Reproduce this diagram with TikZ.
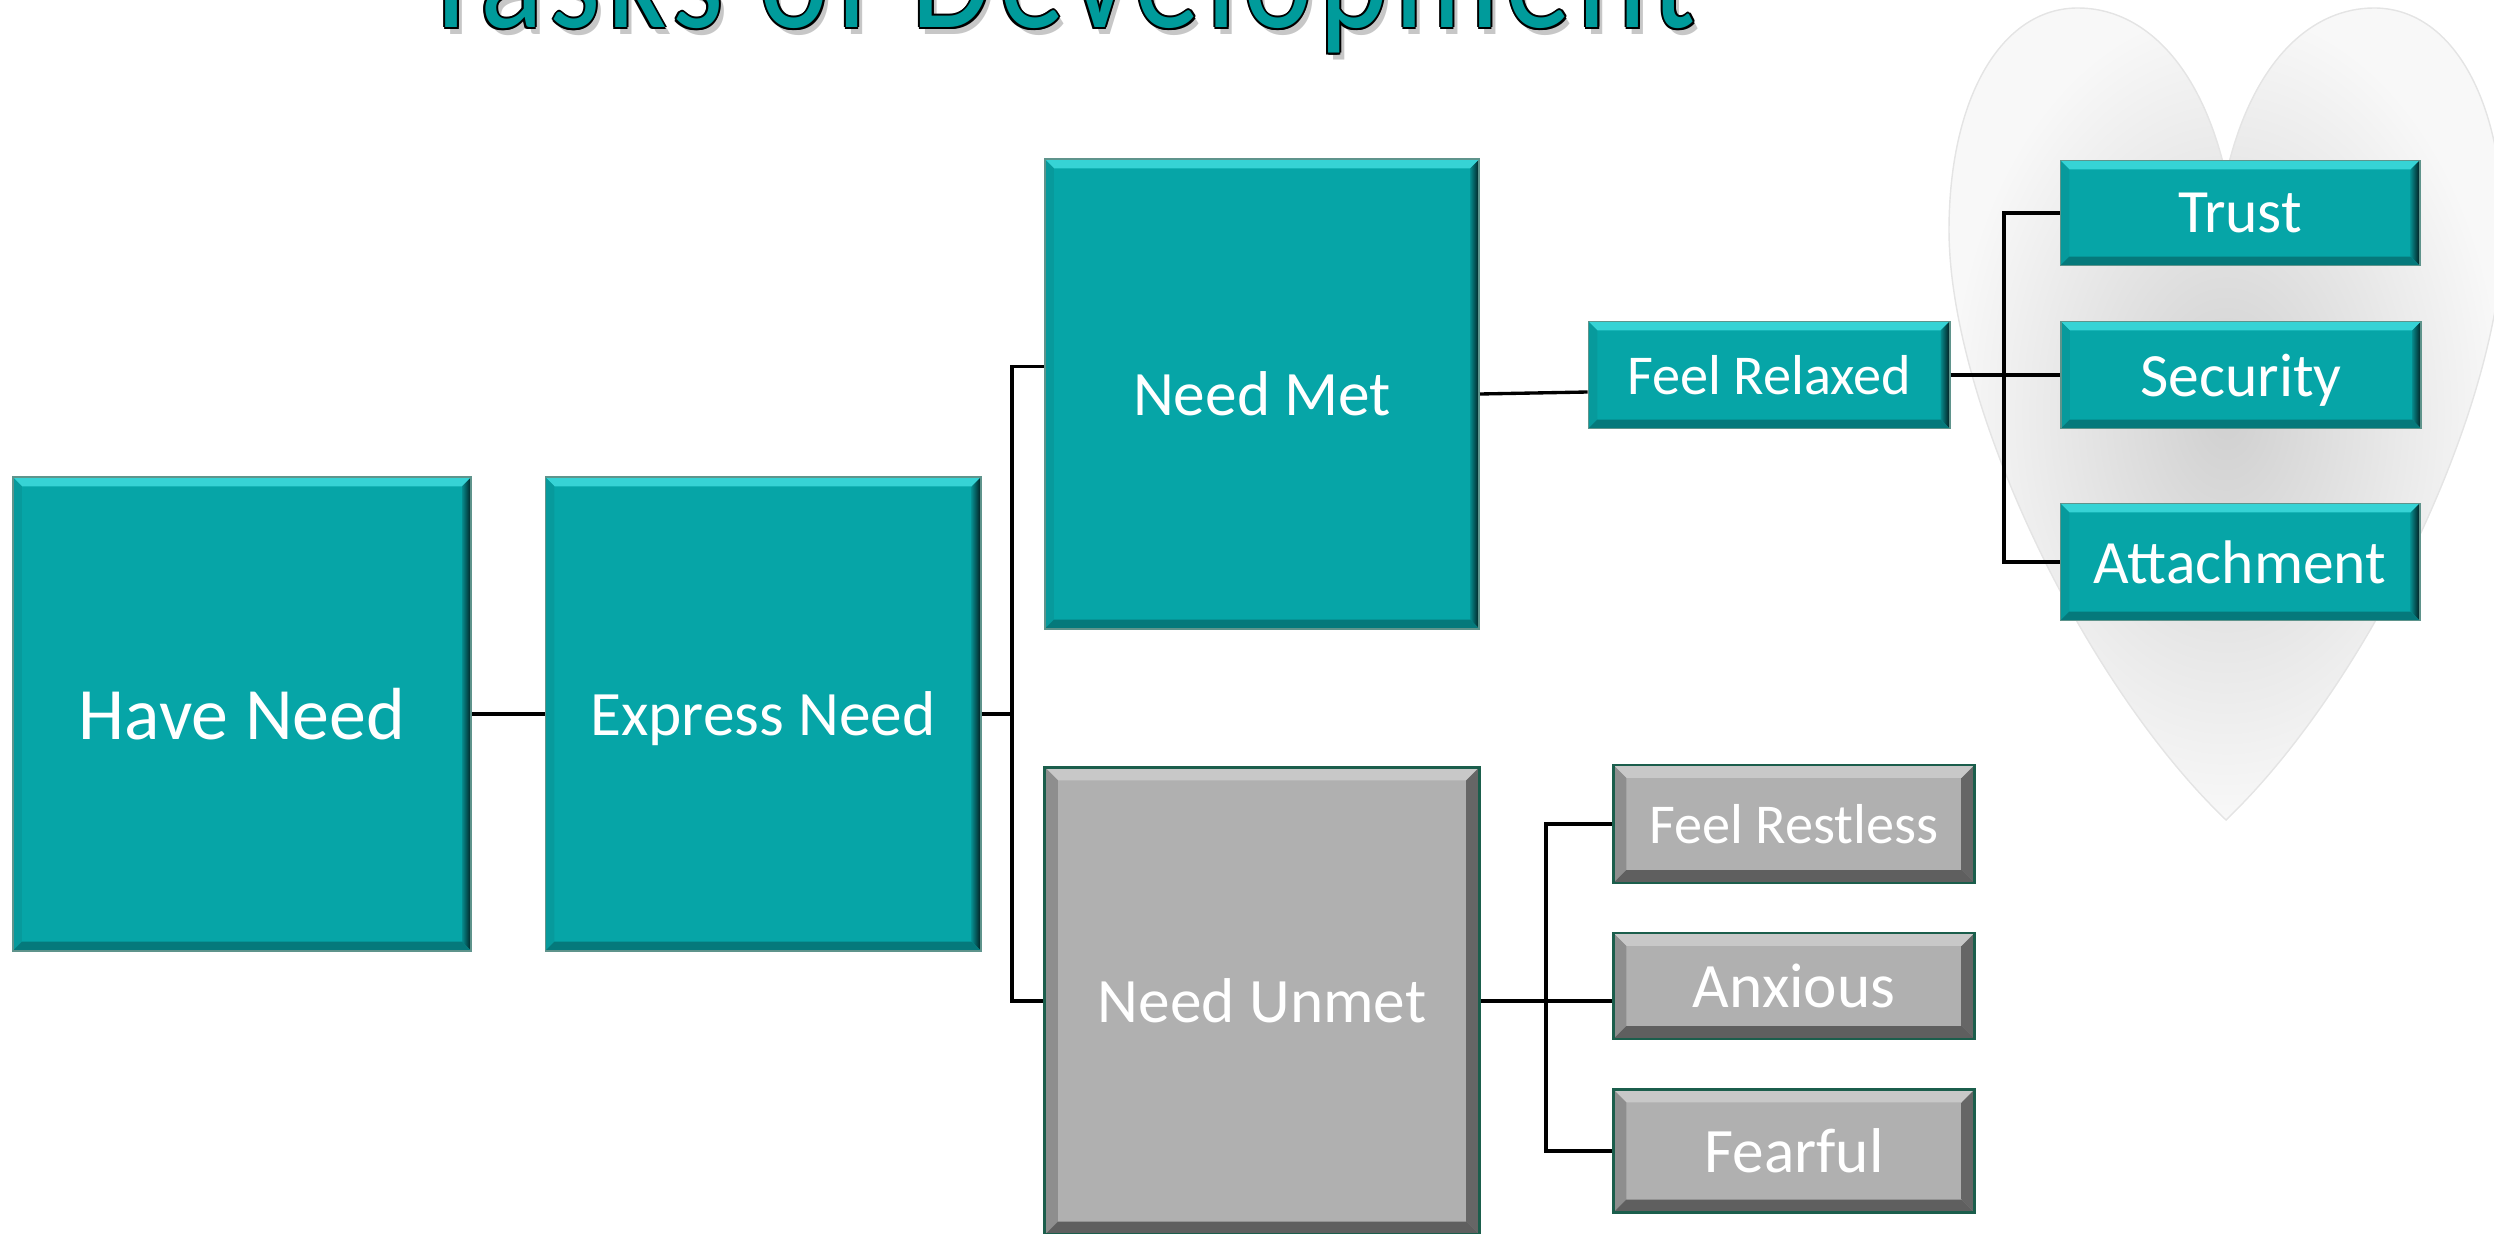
\documentclass[tikz,border=0pt]{standalone}
\usepackage{fontspec}
\setmainfont{Carlito}
\usepackage{graphicx}
\usepackage{xcolor}
\usepackage{tikz}
\usetikzlibrary{calc}
\definecolor{TEAL}{HTML}{06A5A7}
\definecolor{TEALHI}{HTML}{36D3D5}
\definecolor{TEALSIDE}{HTML}{079A9C}
\definecolor{TEALLO}{HTML}{06898B}
\definecolor{TEALEDGE}{HTML}{021E1F}
\definecolor{TEALBOT}{HTML}{05797B}
\definecolor{TEALRIM}{HTML}{5F948C}
\definecolor{GREY}{HTML}{B0B0B0}
\definecolor{GREYHI}{HTML}{C8C8C8}
\definecolor{GREYSIDE}{HTML}{8E8E8E}
\definecolor{GREYLO}{HTML}{666666}
\definecolor{GREYBOT}{HTML}{5F5F5F}
\definecolor{GREYRIM}{HTML}{1B5E4C}
\definecolor{TITLE}{HTML}{009B9B}
\definecolor{HEARTIN}{HTML}{D0D0D0}
\definecolor{HEARTOUT}{HTML}{F8F8F8}
\definecolor{HEARTRIM}{HTML}{E4E4E4}
\newcommand{\tasktitle}{\resizebox{12.75cm}{1.1cm}{\addfontfeature{LetterSpace=5}Tasks of Development}}

\begin{document}
\begin{tikzpicture}[
  x=0.01cm, y=-0.01cm,
  % bevel={width}{top}{left}{right inner}{right outer}{bottom}
  bevel/.style n args={6}{path picture={
    \fill[#2] (path picture bounding box.north west) -- (path picture bounding box.north east)
      -- ([xshift=-#1,yshift=-#1]path picture bounding box.north east)
      -- ([xshift=#1,yshift=-#1]path picture bounding box.north west) -- cycle;
    \fill[#3] (path picture bounding box.north west) -- (path picture bounding box.south west)
      -- ([xshift=#1,yshift=#1]path picture bounding box.south west)
      -- ([xshift=#1,yshift=-#1]path picture bounding box.north west) -- cycle;
    \shade[left color=#4, right color=#5] (path picture bounding box.north east) -- (path picture bounding box.south east)
      -- ([xshift=-#1,yshift=#1]path picture bounding box.south east)
      -- ([xshift=-#1,yshift=-#1]path picture bounding box.north east) -- cycle;
    \fill[#6] (path picture bounding box.south west) -- (path picture bounding box.south east)
      -- ([xshift=-#1,yshift=#1]path picture bounding box.south east)
      -- ([xshift=#1,yshift=#1]path picture bounding box.south west) -- cycle;
  }},
  nbox/.style={rectangle, inner sep=0pt, text=white, text depth=0pt,
    font=\fontsize{18}{20}\selectfont},
  tealbox/.style={nbox, fill=TEAL, draw=TEALRIM, line width=0.5pt,
    bevel={0.9mm}{TEALHI}{TEALSIDE}{TEALLO}{TEALEDGE}{TEALBOT}},
  greybox/.style={nbox, fill=GREY, draw=GREYRIM, line width=0.8pt,
    bevel={1.3mm}{GREYHI}{GREYSIDE}{GREYLO}{GREYLO}{GREYBOT}},
  big/.style={font=\fontsize{21}{24}\selectfont},
  feel/.style={font=\fontsize{16}{18}\selectfont},
  conn/.style={draw=black, line width=0.95pt},
]
\useasboundingbox (0,0) rectangle (2494,1234);
\clip (0,0) rectangle (2494,1234);

% heart behind the right group
\shadedraw[inner color=HEARTIN, outer color=HEARTOUT, draw=HEARTRIM, line width=0.4pt]
  (2226,175) .. controls (2200,60) and (2140,8) .. (2078,8)
  .. controls (2000,8) and (1949,100) .. (1949,230)
  .. controls (1949,400) and (2080,680) .. (2226,820)
  .. controls (2372,680) and (2503,400) .. (2503,230)
  .. controls (2503,100) and (2452,8) .. (2374,8)
  .. controls (2312,8) and (2252,60) .. (2226,175) -- cycle;

% title, cut off at the top
\node[anchor=base, text=black, text opacity=0.22] (tshadow) at (1063,35) {\tasktitle};
\foreach \dx/\dy [count=\k] in {2/0,-2/0,0/2,0/-2,1.4/1.4,-1.4/1.4,1.4/-1.4,-1.4/-1.4}
  \node[anchor=base, text=black] (trim\k) at (1058+\dx,28+\dy) {\tasktitle};
\node[anchor=base, text=TITLE] (title) at (1058,28) {\tasktitle};

% ===== main chain =====
\node[tealbox, big, minimum width=4.58cm, minimum height=4.73cm] (have) at (242,714) {Have Need};
\node[tealbox, minimum width=4.35cm, minimum height=4.73cm] (express) at (763,714) {Express Need};
\node[tealbox, minimum width=4.34cm, minimum height=4.69cm] (met) at (1262,394) {Need Met};
\node[greybox, minimum width=4.34cm, minimum height=4.67cm] (unmet) at (1262,1001) {Need Unmet};

% ===== need met branch =====
\node[tealbox, feel, minimum width=3.61cm, minimum height=1.07cm] (relaxed) at (1769,375) {Feel Relaxed};
\node[tealbox, font=\fontsize{17.5}{20}\selectfont, minimum width=3.59cm, minimum height=1.05cm] (trust) at (2240,213) {Trust};
\node[tealbox, font=\fontsize{17.5}{20}\selectfont, minimum width=3.60cm, minimum height=1.07cm] (security) at (2241,375) {Security};
\node[tealbox, font=\fontsize{17.5}{20}\selectfont, minimum width=3.59cm, minimum height=1.17cm] (attach) at (2240,562) {Attachment};

% ===== need unmet branch =====
\node[greybox, feel, minimum width=3.61cm, minimum height=1.18cm] (restless) at (1794,824) {Feel Restless};
\node[greybox, minimum width=3.61cm, minimum height=1.06cm] (anxious) at (1794,986) {Anxious};
\node[greybox, minimum width=3.61cm, minimum height=1.23cm] (fearful) at (1794,1151) {Fearful};

% connectors
\coordinate (ej) at (1012,714);
\coordinate (rj) at (2004,375);
\coordinate (uj) at (1546,1001);
\draw[conn] (have.east) -- (express.west);
\draw[conn] (express.east) -- (ej);
\draw[conn] (ej) |- ([yshift=2.75mm]met.west);
\draw[conn] (ej) |- (unmet.west);
\draw[conn] (met.east) -- ([yshift=-1.7mm]relaxed.west);
\draw[conn] (relaxed.east) -- (security.west);
\draw[conn] (rj) |- (trust.west);
\draw[conn] (rj) |- (attach.west);
\draw[conn] (unmet.east) -- (unmet.east -| anxious.west);
\draw[conn] (uj) |- (restless.west);
\draw[conn] (uj) |- (fearful.west);

\end{tikzpicture}
\end{document}
